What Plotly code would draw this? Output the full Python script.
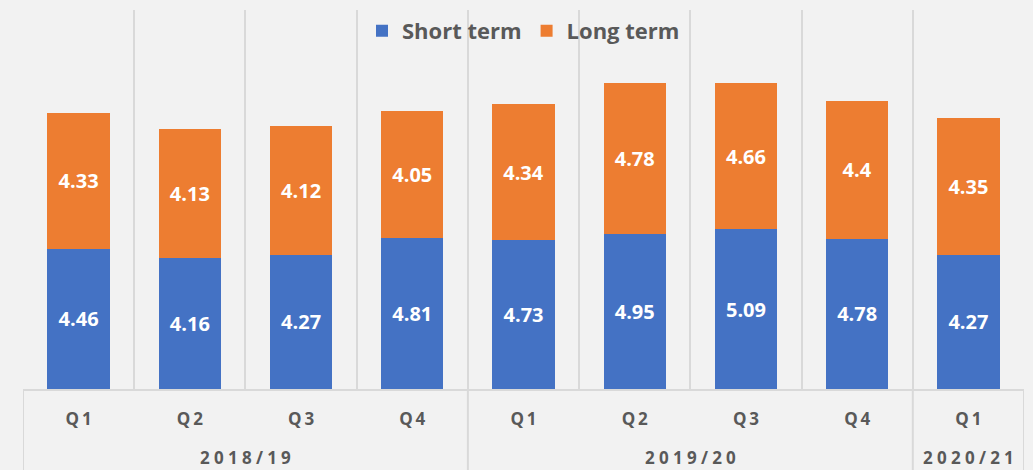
import plotly.graph_objects as go

years = ["2018/19"] * 4 + ["2019/20"] * 4 + ["2020/21"]
quarters = ["Q1", "Q2", "Q3", "Q4", "Q1", "Q2", "Q3", "Q4", "Q1"]
short_term = [4.46, 4.16, 4.27, 4.81, 4.73, 4.95, 5.09, 4.78, 4.27]
long_term = [4.33, 4.13, 4.12, 4.05, 4.34, 4.78, 4.66, 4.4, 4.35]

FONT = "Open Sans"
GRAY = "#595959"
GRID = "#D9D9D9"

def spaced(s, sp="\u2009"):
    return sp.join(list(s))

xpos = list(range(len(quarters)))

fig = go.Figure()
for name, vals, col in [("Short term", short_term, "#4472C4"), ("Long term", long_term, "#ED7D31")]:
    fig.add_trace(go.Bar(x=xpos, y=vals, name=name, marker_color=col, marker_line_width=0,
                         text=vals, texttemplate="%{text}", textposition="inside",
                         insidetextanchor="middle", textangle=0,
                         textfont=dict(color="white", size=20, family=FONT, weight="bold")))

groups = []
for i, y in enumerate(years):
    if not groups or groups[-1][0] != y:
        groups.append([y, i, i])
    else:
        groups[-1][2] = i

annotations = []
shapes = []
for y, a, b in groups:
    annotations.append(dict(x=(a + b) / 2, y=-0.182, xref="x", yref="paper", text=spaced(y, "\u2005"),
                            showarrow=False, yanchor="middle",
                            font=dict(family=FONT, size=17, color=GRAY, weight="bold")))
    shapes.append(dict(type="line", xref="x", yref="paper", x0=a - 0.5, x1=a - 0.5, y0=0, y1=-0.25,
                       line=dict(color=GRID, width=2)))
shapes.append(dict(type="line", xref="x", yref="paper", x0=len(years) - 0.5, x1=len(years) - 0.5,
                   y0=0, y1=-0.25, line=dict(color=GRID, width=2)))

fig.update_layout(
    barmode="stack", bargap=0.44,
    width=1033, height=470,
    margin=dict(l=23, r=9, t=10, b=81, autoexpand=False),
    paper_bgcolor="#F2F2F2", plot_bgcolor="#F2F2F2",
    font=dict(family=FONT, color=GRAY),
    uniformtext=dict(minsize=10, mode="show"),
    legend=dict(orientation="h", x=0.5, xanchor="center", y=0.945, yanchor="middle",
                bgcolor="rgba(0,0,0,0)", font=dict(size=22, color=GRAY, family=FONT, weight="bold"),
                traceorder="normal"),
    annotations=annotations, shapes=shapes,
)
fig.update_xaxes(range=[-0.5, len(quarters) - 0.5], tickvals=xpos,
                 ticktext=[spaced(q, "\u2009") for q in quarters], showgrid=False,
                 minor=dict(tickvals=[i - 0.5 for i in range(len(quarters) + 1)], showgrid=True,
                            gridcolor=GRID, gridwidth=2),
                 showline=True, linecolor=GRID, linewidth=2, zeroline=False,
                 ticks="", ticklabelstandoff=14,
                 tickfont=dict(size=17, color=GRAY, family=FONT, weight="bold"))
fig.update_yaxes(range=[0, 12.07], visible=False, showgrid=False)

fig.write_html("out.html", config={"displayModeBar": False},
               post_script="document.body.style.margin='0';document.body.style.background='#F2F2F2';")
